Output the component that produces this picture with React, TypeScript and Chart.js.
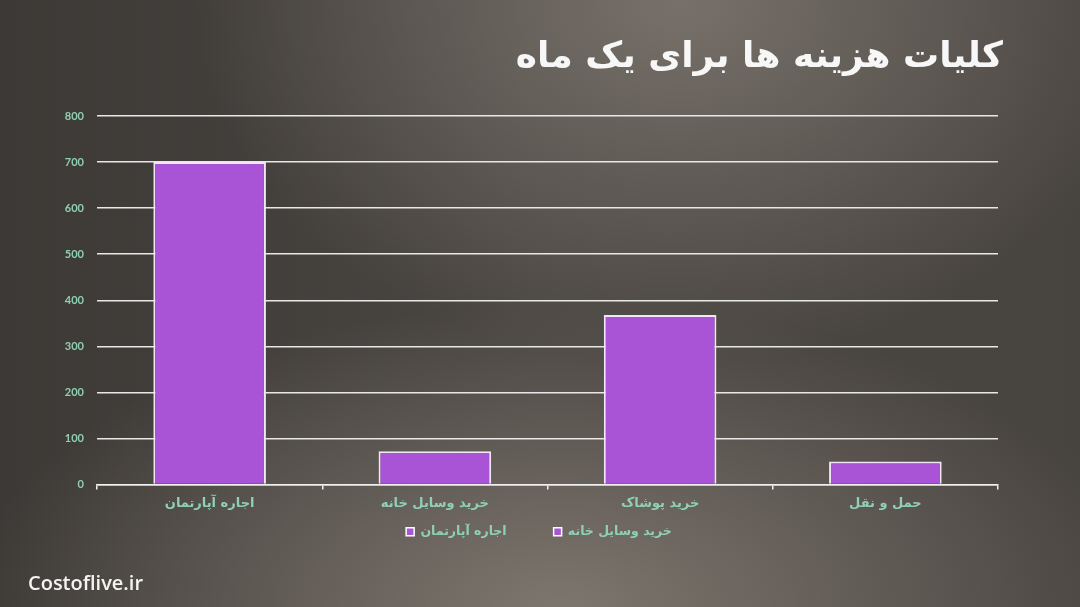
import React, { useEffect, useRef } from "react";
import { Chart, registerables } from "chart.js";

Chart.register(...registerables);

const categories = ["اجاره آپارتمان", "خرید وسایل خانه", "خرید پوشاک", "حمل و نقل"];
const costs = [700, 72, 368, 50];
const legendLabels = ["اجاره آپارتمان", "خرید وسایل خانه"];
const yMin = 0;
const yMax = 800;
const yStep = 100;

const titleText = "کلیات هزینه ها برای یک ماه";
const siteText = "Costoflive.ir";

const TEAL = "#8fd0b5";
const BAR_FILL = "#a953d6";
const BAR_BORDER = "#f3e6f7";

// moves the built-in legend to where the reference has it
const legendShift = {
  id: "legendShift",
  afterLayout(chart: any) {
    const lg = chart.legend;
    if (!lg) return;
    const dy = -36;
    const dx = 9;
    lg.top += dy;
    lg.bottom += dy;
    lg.left += dx;
    lg.right += dx;
  },
};

export default function App() {
  const canvasRef = useRef<HTMLCanvasElement | null>(null);

  useEffect(() => {
    document.body.style.margin = "0";
    const canvas = canvasRef.current;
    if (!canvas) return;
    const chart = new Chart(canvas, {
      type: "bar",
      data: {
        labels: categories,
        datasets: [
          {
            label: "costs",
            data: costs,
            backgroundColor: BAR_FILL,
            borderColor: BAR_BORDER,
            borderWidth: 2,
            categoryPercentage: 1,
            barPercentage: 0.5,
          },
        ],
      },
      options: {
        animation: false,
        responsive: false,
        devicePixelRatio: 1,
        layout: { padding: { left: 62, right: 82, top: 116, bottom: 23 } },
        scales: {
          x: {
            offset: true,
            grid: {
              offset: true,
              drawOnChartArea: false,
              drawTicks: true,
              tickLength: 5,
              color: "#f0f0f0",
              lineWidth: 1.5,
            },
            border: { color: "#f0f0f0", width: 1.5 },
            ticks: {
              color: TEAL,
              padding: 6,
              font: { family: "DejaVu Sans", size: 13, weight: "bold" },
            },
            afterFit: (scale: any) => {
              scale.height = 30;
            },
          },
          y: {
            min: yMin,
            max: yMax,
            ticks: {
              stepSize: yStep,
              color: TEAL,
              padding: 13,
              font: { family: "Lato", size: 11, weight: "bold" },
            },
            grid: {
              color: "#e8e8e8",
              lineWidth: 1.5,
              drawTicks: false,
            },
            border: { display: false },
            afterFit: (scale: any) => {
              scale.width = 35;
            },
          },
        },
        plugins: {
          tooltip: { enabled: false },
          legend: {
            position: "bottom",
            labels: {
              color: TEAL,
              padding: 47,
              boxWidth: 8,
              boxHeight: 8,
              font: { family: "DejaVu Sans", size: 12.5, weight: "bold" },
              generateLabels: () =>
                legendLabels.map((t, i) => ({
                  text: t,
                  fillStyle: BAR_FILL,
                  strokeStyle: "#ffffff",
                  lineWidth: 1.5,
                  fontColor: TEAL,
                  hidden: false,
                  index: i,
                  datasetIndex: 0,
                })),
            },
          },
        },
      },
      plugins: [legendShift],
    });
    return () => chart.destroy();
  }, []);

  return (
    <div
      style={{
        position: "fixed",
        left: 0,
        top: 0,
        width: 1080,
        height: 607,
        overflow: "hidden",
        background:
          "radial-gradient(ellipse 45% 60% at 63% 0%, rgba(122,115,108,0.95), rgba(122,115,108,0) 100%), radial-gradient(ellipse 55% 50% at 52% 100%, rgba(128,120,112,0.95), rgba(128,120,112,0) 100%), linear-gradient(90deg, #3c3936 0%, #4a4642 50%, #47433f 100%)",
      }}
    >
      <canvas
        ref={canvasRef}
        width={1080}
        height={607}
        style={{ position: "absolute", left: 0, top: 0 }}
      />
      <div
        style={{
          position: "absolute",
          right: 77,
          top: 30,
          direction: "rtl",
          fontFamily: "DejaVu Sans",
          fontWeight: "bold",
          fontSize: 36,
          lineHeight: "50px",
          color: "#f7f7f7",
          whiteSpace: "nowrap",
        }}
      >
        {titleText}
      </div>
      <div
        style={{
          position: "absolute",
          left: 28,
          top: 570,
          fontFamily: "Open Sans",
          fontWeight: 600,
          fontSize: 20,
          lineHeight: "26px",
          color: "#f4f4f4",
        }}
      >
        {siteText}
      </div>
    </div>
  );
}
